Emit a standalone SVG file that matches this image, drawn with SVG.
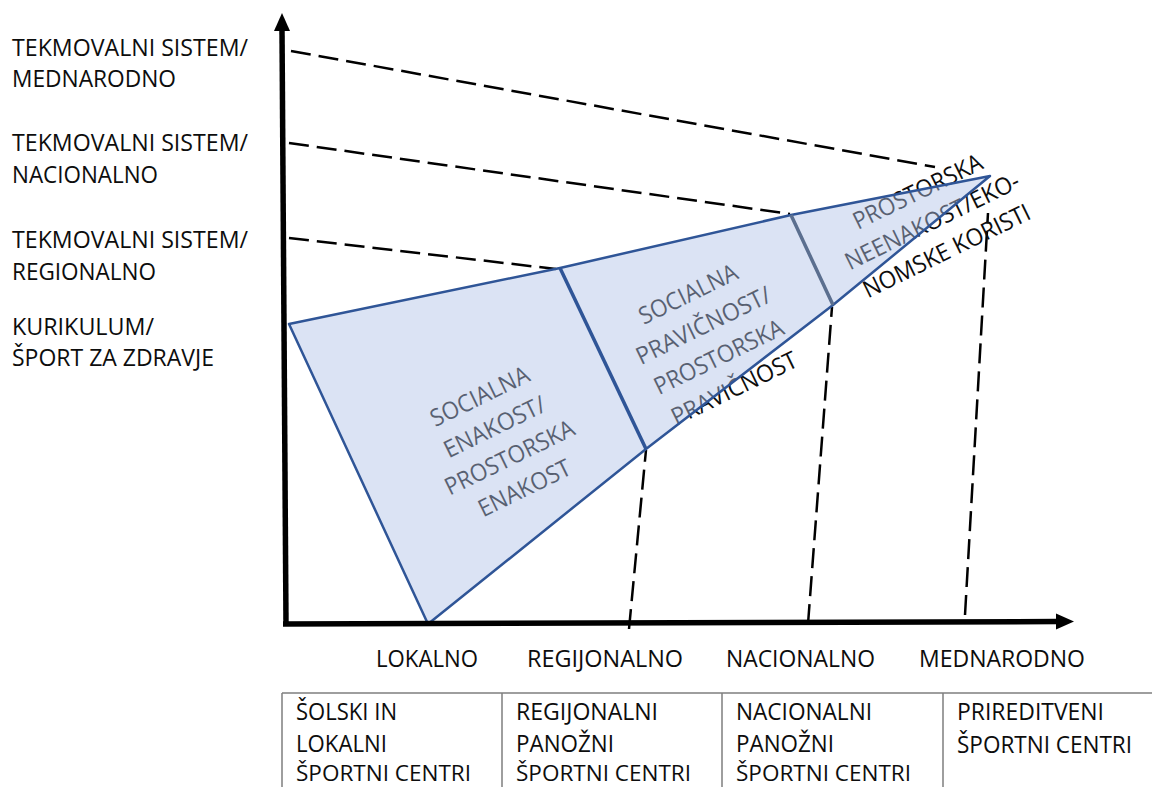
<svg xmlns="http://www.w3.org/2000/svg" width="1152" height="787" viewBox="0 0 1152 787">
<style>
text{font-family:"Open Sans","Liberation Sans",sans-serif;font-size:24px;fill:#0d0d0d}
.c{text-anchor:middle}
.b{font-size:22px}
.dash{fill:none;stroke:#000;stroke-width:2.5;stroke-dasharray:20 8}
.axis{fill:none;stroke:#000;stroke-width:5.5}
.seg{fill:rgb(177,195,232);fill-opacity:0.46;stroke:none}
.edge{fill:none;stroke:#2f5597;stroke-width:2.5;stroke-linejoin:round}
.tbl{fill:none;stroke:#7f7f7f;stroke-width:1.5}
</style>
<rect width="1152" height="787" fill="#fff"/>

<g id="y-labels">
<text x="12" y="56" textLength="236" lengthAdjust="spacingAndGlyphs">TEKMOVALNI SISTEM/</text>
<text x="12" y="87" textLength="164" lengthAdjust="spacingAndGlyphs">MEDNARODNO</text>
<text x="12" y="151" textLength="236" lengthAdjust="spacingAndGlyphs">TEKMOVALNI SISTEM/</text>
<text x="12" y="183" textLength="146" lengthAdjust="spacingAndGlyphs">NACIONALNO</text>
<text x="12" y="248" textLength="236" lengthAdjust="spacingAndGlyphs">TEKMOVALNI SISTEM/</text>
<text x="12" y="280" textLength="144" lengthAdjust="spacingAndGlyphs">REGIONALNO</text>
<text x="12" y="335" textLength="142" lengthAdjust="spacingAndGlyphs">KURIKULUM/</text>
<text x="12" y="366" textLength="202" lengthAdjust="spacingAndGlyphs">ŠPORT ZA ZDRAVJE</text>
</g>

<g id="connectors">
<path class="dash" d="M291,51 L935,167"/>
<path class="dash" d="M289,143 L790,214"/>
<path class="dash" d="M289,238 L556,269"/>
<path class="dash" d="M629,629 L646,450"/>
<path class="dash" d="M808,624 L832,307"/>
<path class="dash" d="M965,615 L988,213"/>
</g>

<g id="zone-texts">
<g transform="translate(502,442) rotate(-26)">
<text class="c" x="0" y="-42.5" textLength="107" lengthAdjust="spacingAndGlyphs">SOCIALNA</text>
<text class="c" x="0" y="-8.5" textLength="110" lengthAdjust="spacingAndGlyphs">ENAKOST/</text>
<text class="c" x="0" y="25.5" textLength="141" lengthAdjust="spacingAndGlyphs">PROSTORSKA</text>
<text class="c" x="0" y="59.5" textLength="100" lengthAdjust="spacingAndGlyphs">ENAKOST</text>
</g>
<g transform="translate(711,341) rotate(-26)">
<text class="c" x="0" y="-44" textLength="107" lengthAdjust="spacingAndGlyphs">SOCIALNA</text>
<text class="c" x="0" y="-9" textLength="147" lengthAdjust="spacingAndGlyphs">PRAVIČNOST/</text>
<text class="c" x="0" y="26" textLength="141" lengthAdjust="spacingAndGlyphs">PROSTORSKA</text>
<text class="c" x="0" y="61" textLength="137" lengthAdjust="spacingAndGlyphs">PRAVIČNOST</text>
</g>
<g transform="translate(932,221) rotate(-26)">
<text class="c" x="0" y="-24.5" textLength="141" lengthAdjust="spacingAndGlyphs">PROSTORSKA</text>
<text class="c" x="0" y="8.5" textLength="191" lengthAdjust="spacingAndGlyphs">NEENAKOST/EKO-</text>
<text class="c" x="0" y="41.5" textLength="183" lengthAdjust="spacingAndGlyphs">NOMSKE KORISTI</text>
</g>
</g>

<g id="zone-lokalno">
<polygon class="seg" points="289,324 560,268 646,449 428,624"/>
</g>
<g id="zone-regionalno">
<polygon class="seg" points="560,268 791,215 833,305 646,449"/>
</g>
<g id="zone-mednarodno">
<polygon class="seg" points="791,215 990,176 833,305"/>
</g>
<g id="zone-outline">
<path class="edge" d="M289,324 L560,268 L791,215 L990,176 L833,305 L646,449 L428,624 Z"/>
<path d="M560,268 L646,449" fill="none" stroke="#2f5597" stroke-width="3.5"/>
<path d="M791,215 L833,305" fill="none" stroke="#5b6f8f" stroke-width="3.5"/>
</g>

<g id="axes">
<path class="axis" d="M286,624 L282,30"/>
<polygon points="282,13 274,31 290,31" fill="#000"/>
<path class="axis" d="M283,624 L1058,621.5"/>
<polygon points="1074,621.5 1056,613.5 1056,629.5" fill="#000"/>
</g>

<g id="x-labels">
<text x="376" y="667" textLength="102" lengthAdjust="spacingAndGlyphs">LOKALNO</text>
<text x="527" y="667" textLength="156" lengthAdjust="spacingAndGlyphs">REGIJONALNO</text>
<text x="726" y="667" textLength="149" lengthAdjust="spacingAndGlyphs">NACIONALNO</text>
<text x="919" y="667" textLength="166" lengthAdjust="spacingAndGlyphs">MEDNARODNO</text>
</g>

<g id="table">
<path class="tbl" d="M282,693 L1152,693 M282,693 L282,787 M502,693 L502,787 M722,693 L722,787 M943,693 L943,787"/>
<g id="cell-1">
<text x="296" y="720" textLength="101" lengthAdjust="spacingAndGlyphs">ŠOLSKI IN</text>
<text x="296" y="752" textLength="91" lengthAdjust="spacingAndGlyphs">LOKALNI</text>
<text class="b" x="296" y="781" textLength="175" lengthAdjust="spacingAndGlyphs">ŠPORTNI CENTRI</text>
</g>
<g id="cell-2">
<text x="516" y="720" textLength="142" lengthAdjust="spacingAndGlyphs">REGIJONALNI</text>
<text x="516" y="752" textLength="98" lengthAdjust="spacingAndGlyphs">PANOŽNI</text>
<text class="b" x="516" y="781" textLength="175" lengthAdjust="spacingAndGlyphs">ŠPORTNI CENTRI</text>
</g>
<g id="cell-3">
<text x="736" y="720" textLength="136" lengthAdjust="spacingAndGlyphs">NACIONALNI</text>
<text x="736" y="752" textLength="98" lengthAdjust="spacingAndGlyphs">PANOŽNI</text>
<text class="b" x="736" y="781" textLength="175" lengthAdjust="spacingAndGlyphs">ŠPORTNI CENTRI</text>
</g>
<g id="cell-4">
<text x="957" y="720" textLength="147" lengthAdjust="spacingAndGlyphs">PRIREDITVENI</text>
<text x="957" y="753" textLength="175" lengthAdjust="spacingAndGlyphs">ŠPORTNI CENTRI</text>
</g>
</g>
</svg>
